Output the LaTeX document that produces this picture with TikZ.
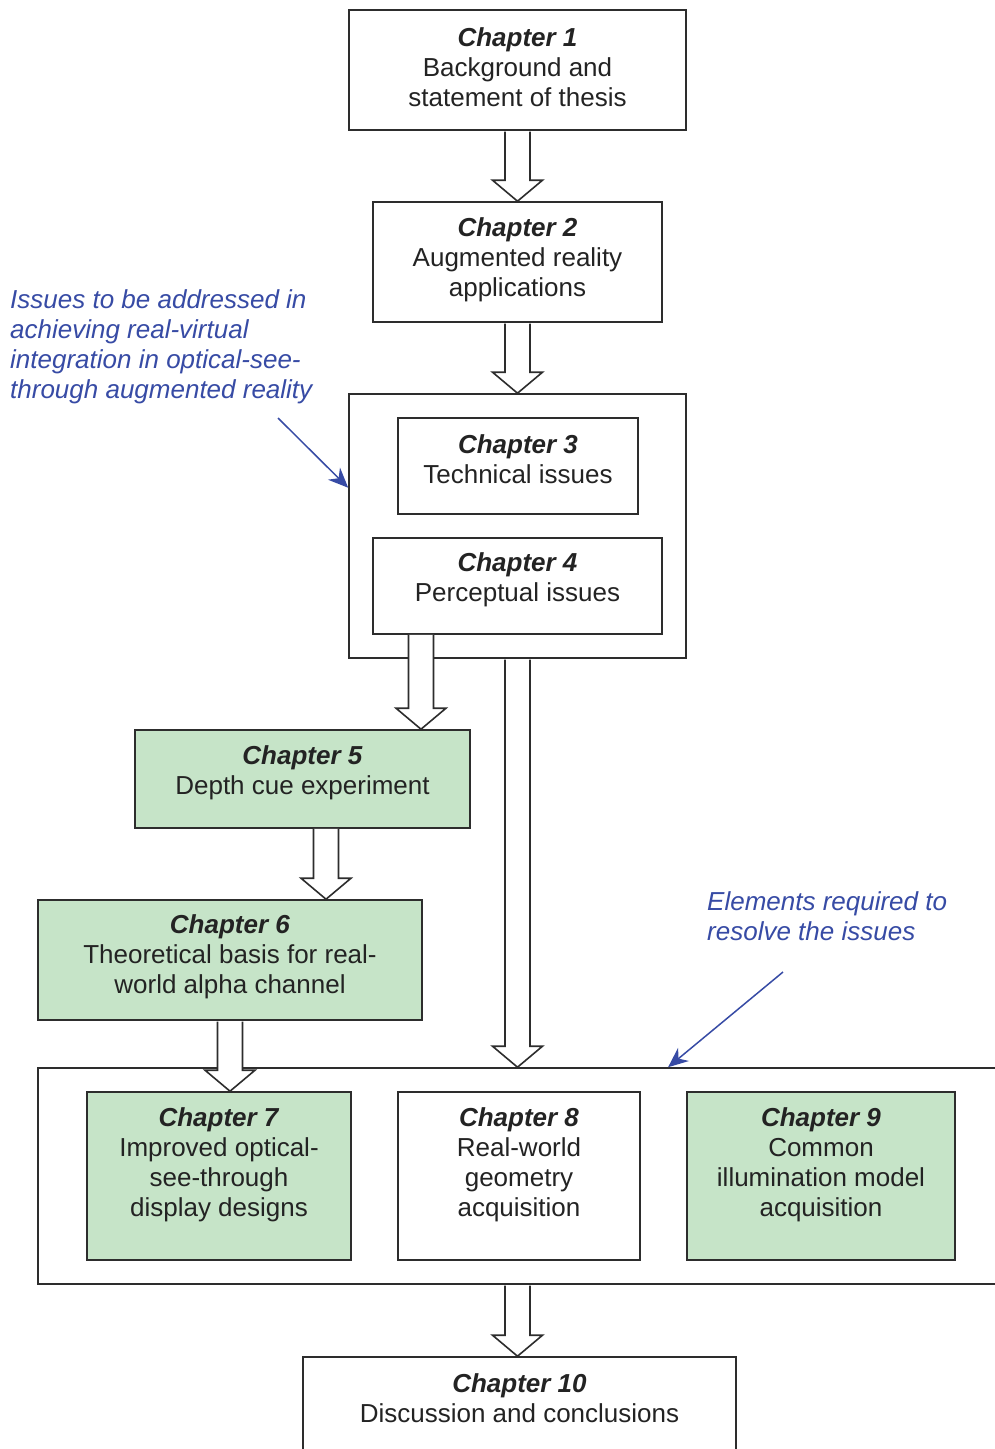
\documentclass[tikz,border=0pt]{standalone}
\usepackage{fontspec}
\setmainfont{Liberation Sans}
\usetikzlibrary{calc,arrows.meta}
\definecolor{boxgreen}{RGB}{198,228,200}
\definecolor{annblue}{RGB}{55,75,165}
\definecolor{linegray}{RGB}{45,45,45}
\definecolor{txtgray}{RGB}{35,35,35}
\tikzset{
  chbox/.style={draw=linegray, line width=1.6pt, fill=white, inner sep=0pt},
  greenbox/.style={chbox, fill=boxgreen},
  frame/.style={draw=linegray, line width=1.6pt},
  chtext/.style={align=center, text=txtgray, inner sep=0pt, font=\fontsize{26}{30}\selectfont},
  barrow/.style={draw=linegray, line width=1.6pt, fill=white, line join=miter},
  note/.style={text=annblue, font=\fontsize{26}{30}\selectfont\itshape, align=left, inner sep=0pt},
  pointer/.style={draw=annblue, line width=1.5pt, -{Stealth[length=20pt,width=17pt]}},
}
\newcommand{\chead}[1]{\textbf{\textit{#1}}}
\newcommand{\blockarrow}[2]{%
  \draw[barrow] let \p1=#1, \p2=#2 in
    (\x1-12.5pt,\y1-0.8pt) -- (\x1-12.5pt,\y2+21pt) -- (\x1-25pt,\y2+21pt) -- (\x1,\y2)
    -- (\x1+25pt,\y2+21pt) -- (\x1+12.5pt,\y2+21pt) -- (\x1+12.5pt,\y1-0.8pt);
}
\begin{document}
\begin{tikzpicture}[x=1pt,y=-1pt]
\useasboundingbox (0,0) rectangle (995,1449);
\clip (0,0) rectangle (995,1449);
\fill[white] (0,0) rectangle (995,1449);

% boxes
\node[chbox, minimum width=337pt, minimum height=120pt] (c1) at (517.5,70) {};
\node[chtext] (c1t) at (517.5,67) {\chead{Chapter 1}\\Background and\\statement of thesis};
\node[chbox, minimum width=289pt, minimum height=120pt] (c2) at (517.5,262) {};
\node[chtext] (c2t) at (517.5,259.5) {\chead{Chapter 2}\\Augmented reality\\applications};
\node[frame, minimum width=337pt, minimum height=264pt] (grp) at (517.5,526) {};
\node[chbox, minimum width=240pt, minimum height=96pt] (c3) at (518,466) {};
\node[chtext] (c3t) at (518,459.5) {\chead{Chapter 3}\\Technical issues};
\node[chbox, minimum width=289pt, minimum height=96pt] (c4) at (517.5,586) {};
\node[chtext] (c4t) at (517.5,579.5) {\chead{Chapter 4}\\Perceptual issues};
\node[greenbox, minimum width=335pt, minimum height=98pt] (c5) at (302.5,779) {};
\node[chtext] (c5t) at (302.5,772.5) {\chead{Chapter 5}\\Depth cue experiment};
\node[greenbox, minimum width=384pt, minimum height=120pt] (c6) at (230,960) {};
\node[chtext] (c6t) at (230,957) {\chead{Chapter 6}\\Theoretical basis for real-\\world alpha channel};
\node[frame, minimum width=972pt, minimum height=216pt] (outer) at (524,1176) {};
\node[greenbox, minimum width=264pt, minimum height=168pt] (c7) at (219,1176) {};
\node[chtext] (c7t) at (219,1164.5) {\chead{Chapter 7}\\Improved optical-\\see-through\\display designs};
\node[chbox, minimum width=242pt, minimum height=168pt] (c8) at (519,1176) {};
\node[chtext] (c8t) at (519,1164.5) {\chead{Chapter 8}\\Real-world\\geometry\\acquisition};
\node[greenbox, minimum width=268pt, minimum height=168pt] (c9) at (821,1176) {};
\node[chtext] (c9t) at (821,1164.5) {\chead{Chapter 9}\\Common\\illumination model\\acquisition};
\node[chbox, minimum width=433pt, minimum height=113pt] (c10) at (519.5,1413.5) {};
\node[chtext] (c10t) at (519.5,1398.5) {\chead{Chapter 10}\\Discussion and conclusions};

% block arrows
\coordinate (a5s) at (421,634);
\coordinate (a6s) at (326,828);
\blockarrow{(c1.south)}{(c2.north)}
\blockarrow{(c2.south)}{(grp.north)}
\blockarrow{(a5s)}{(c5.north)}
\blockarrow{(grp.south)}{(outer.north)}
\blockarrow{(a6s)}{(c6.north)}
\blockarrow{(c6.south)}{(c7.north)}
\blockarrow{($(grp.south |- outer.south)$)}{(c10.north)}

% annotations
\node[note, anchor=north west] (n1) at (10,289) {Issues to be addressed in\\achieving real-virtual\\integration in optical-see-\\through augmented reality};
\node[note, anchor=north west] (n2) at (707,891) {Elements required to\\resolve the issues};
\coordinate (p1s) at (278,418);
\coordinate (p2s) at (783,972);
\draw[pointer] (p1s) -- ($(grp.north west)!0.356!(grp.south west)$);
\draw[pointer] (p2s) -- ($(outer.north west)!0.648!(outer.north east)$);
\end{tikzpicture}
\end{document}
